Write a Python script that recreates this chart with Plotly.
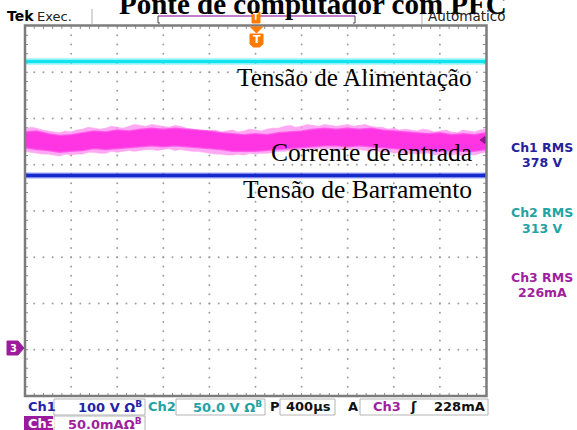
import plotly.graph_objects as go

# ---------------- data ----------------
time_us = [0, 100, 200, 300, 400, 500, 600, 700, 800, 900, 1000,
           1100, 1200, 1300, 1400, 1500, 1600, 1700, 1800, 1900, 2000,
           2100, 2200, 2300, 2400, 2500, 2600, 2700, 2800, 2900, 3000,
           3100, 3200, 3300, 3400, 3500, 3600, 3700, 3800, 3900, 4000]
# dense core of the Ch3 (input current) noise band
ch3_upper_mA = [234, 235, 232, 230, 231, 233, 235, 234, 236, 235, 237,
                238, 237, 238, 237, 236, 235, 233, 232, 231, 232,
                231, 233, 234, 235, 237, 238, 237, 238, 237, 238,
                236, 235, 234, 233, 232, 233, 231, 232, 231, 233]
ch3_lower_mA = [217, 215, 214, 212, 213, 214, 216, 215, 216, 217, 218,
                219, 218, 219, 218, 217, 216, 215, 213, 213, 213,
                214, 215, 216, 217, 218, 219, 219, 218, 219, 218,
                217, 216, 215, 214, 214, 213, 214, 213, 213, 215]
# noise peaks of Ch3 (sampled every 50 us)
peak_time_us = list(range(0, 4001, 50))
ch3_peak_upper_mA = [237, 239, 238, 236, 235, 234, 233, 235, 234, 236,
                     237, 239, 238, 237, 238, 240, 239, 238, 240, 242,
                     241, 240, 242, 241, 240, 239, 241, 240, 238, 237,
                     236, 235, 235, 236, 234, 235, 236, 234, 235, 237,
                     236, 235, 237, 238, 238, 240, 241, 239, 240, 242,
                     241, 240, 242, 241, 240, 241, 242, 240, 241, 242,
                     240, 239, 239, 237, 238, 236, 237, 236, 235, 237,
                     236, 234, 235, 236, 234, 233, 236, 235, 234, 236,
                     237]
ch3_peak_lower_mA = [213, 212, 211, 210, 210, 209, 208, 210, 209, 210,
                     210, 212, 212, 211, 211, 213, 212, 213, 214, 213,
                     214, 215, 215, 214, 215, 216, 214, 215, 214, 213,
                     213, 212, 211, 210, 210, 209, 209, 210, 209, 211,
                     210, 211, 211, 212, 213, 213, 214, 215, 214, 216,
                     215, 216, 215, 216, 214, 215, 216, 214, 215, 214,
                     213, 214, 212, 213, 211, 212, 210, 211, 210, 211,
                     211, 209, 210, 210, 209, 210, 208, 210, 209, 211,
                     212]
trace_time_us = [0, 400, 800, 1200, 1600, 2000, 2400, 2800, 3200, 3600, 4000]
ch1_bus_V = [374, 374, 374, 374, 374, 374, 374, 374, 374, 374, 374]
ch2_supply_V = [310, 310, 310, 310, 310, 310, 310, 310, 310, 310, 310]

trace_labels = ["Tensão de Alimentação", "Corrente de entrada", "Tensão de Barramento"]
rms_names = ["Ch1 RMS", "Ch2 RMS", "Ch3 RMS"]
rms_values = ["378 V", "313 V", "226mA"]
title_text = "Ponte de computador com PFC"

# scope settings
CH1_V_PER_DIV = 100
CH2_V_PER_DIV = 50
CH3_MA_PER_DIV = 50
GROUND_DIV = -2.97
US_PER_DIV = 400

# ---------------- layout helpers ----------------
W, H = 577, 430
L, R, T, B = 25, 91, 26, 34
PW, PH = W - L - R, H - T - B


def px(x):
    return (x - L) / PW


def py(y):
    return (H - B - y) / PH


def to_div(v, scale):
    return [val / scale + GROUND_DIV for val in v]


fig = go.Figure()

# grid dots
gx, gy = [], []
for k in range(1, 10):
    for j in range(1, 40):
        gx.append(k * US_PER_DIV)
        gy.append(-4 + j * 0.2)
for k in range(-3, 4):
    for j in range(1, 50):
        gx.append(j * 0.2 * US_PER_DIV)
        gy.append(k)
fig.add_trace(go.Scatter(x=gx, y=gy, mode="markers",
                         marker=dict(size=2, color="#a0a0a0", line=dict(width=0)),
                         hoverinfo="skip", showlegend=False))

# edge ticks
tx, ty = [], []
dy = 3 / 46.25
dx = 3 / 46.1 * US_PER_DIV
for j in range(1, 50):
    x = j * 0.2 * US_PER_DIV
    tx += [x, x, None, x, x, None]
    ty += [4, 4 - dy, None, -4, -4 + dy, None]
for j in range(1, 40):
    y = -4 + j * 0.2
    tx += [0, dx, None, 4000, 4000 - dx, None]
    ty += [y, y, None, y, y, None]
fig.add_trace(go.Scatter(x=tx, y=ty, mode="lines",
                         line=dict(color="#8a8a8a", width=1),
                         hoverinfo="skip", showlegend=False))

# Ch2 (cyan)
y2 = to_div(ch2_supply_V, CH2_V_PER_DIV)
fig.add_trace(go.Scatter(x=trace_time_us, y=y2, mode="lines",
                         line=dict(color="rgba(90,238,246,0.45)", width=7),
                         hoverinfo="skip", showlegend=False))
fig.add_trace(go.Scatter(x=trace_time_us, y=y2, mode="lines",
                         line=dict(color="#12e4ee", width=3.5),
                         hoverinfo="skip", showlegend=False))

# Ch3 (magenta noise band: light peaks + dense core)
pu = to_div(ch3_peak_upper_mA, CH3_MA_PER_DIV)
pl = to_div(ch3_peak_lower_mA, CH3_MA_PER_DIV)
fig.add_trace(go.Scatter(x=peak_time_us + peak_time_us[::-1], y=pu + pl[::-1],
                         mode="lines", fill="toself",
                         fillcolor="rgba(255,140,240,0.75)",
                         line=dict(color="rgba(255,160,244,0.6)", width=1),
                         hoverinfo="skip", showlegend=False))
up = to_div(ch3_upper_mA, CH3_MA_PER_DIV)
lo = to_div(ch3_lower_mA, CH3_MA_PER_DIV)
fig.add_trace(go.Scatter(x=time_us + time_us[::-1], y=up + lo[::-1],
                         mode="lines", fill="toself",
                         fillcolor="#ff34e2",
                         line=dict(color="rgba(255,80,232,0.8)", width=1.5),
                         hoverinfo="skip", showlegend=False))

# Ch1 (blue)
y1 = to_div(ch1_bus_V, CH1_V_PER_DIV)
fig.add_trace(go.Scatter(x=trace_time_us, y=y1, mode="lines",
                         line=dict(color="rgba(40,60,230,0.45)", width=6),
                         hoverinfo="skip", showlegend=False))
fig.add_trace(go.Scatter(x=trace_time_us, y=y1, mode="lines",
                         line=dict(color="#1629cc", width=3.5),
                         hoverinfo="skip", showlegend=False))

shapes = []
# frame
shapes.append(dict(type="rect", xref="paper", yref="paper",
                   x0=px(25), x1=px(486.5), y0=py(396), y1=py(25.5),
                   line=dict(color="#7c7c7c", width=2.5)))
# header separators
for sx in (92, 422):
    shapes.append(dict(type="line", xref="paper", yref="paper",
                       x0=px(sx), x1=px(sx), y0=py(24), y1=py(9),
                       line=dict(color="#b0b0b0", width=1)))
# purple bar with brackets
shapes.append(dict(type="line", xref="paper", yref="paper",
                   x0=px(158), x1=px(355), y0=py(16), y1=py(16),
                   line=dict(color="#c27ccc", width=2)))
for bx, d in ((158, 2), (355, -2)):
    shapes.append(dict(type="path", xref="paper", yref="paper",
                       path=f"M {px(bx)} {py(16)} L {px(bx)} {py(23)} L {px(bx + d)} {py(23)}",
                       line=dict(color="#444444", width=1)))
# trigger markers (orange)
shapes.append(dict(type="rect", xref="paper", yref="paper",
                   x0=px(252), x1=px(260), y0=py(23), y1=py(12),
                   fillcolor="#ff7a00", line=dict(color="#ff7a00", width=1)))
shapes.append(dict(type="path", xref="paper", yref="paper",
                   path=f"M {px(250.5)} {py(27)} L {px(262.5)} {py(27)} L {px(256.5)} {py(33)} Z",
                   fillcolor="#ff7a00", line=dict(color="#ff7a00", width=1)))
shapes.append(dict(type="path", xref="paper", yref="paper",
                   path=(f"M {px(250)} {py(34)} L {px(263)} {py(34)} L {px(263)} {py(44)} "
                         f"L {px(259.5)} {py(47)} L {px(253.5)} {py(47)} L {px(250)} {py(44)} Z"),
                   fillcolor="#ff7a00", line=dict(color="#ff7a00", width=1)))
# Ch3 ground marker
shapes.append(dict(type="path", xref="paper", yref="paper",
                   path=(f"M {px(7)} {py(341)} L {px(18)} {py(341)} L {px(24)} {py(348)} "
                         f"L {px(18)} {py(355)} L {px(7)} {py(355)} Z"),
                   fillcolor="#9c1a9c", line=dict(color="#9c1a9c", width=1)))
# right edge marker for ch3
shapes.append(dict(type="path", xref="paper", yref="paper",
                   path=f"M {px(480)} {py(140)} L {px(485)} {py(136.5)} L {px(485)} {py(143.5)} Z",
                   fillcolor="#8a1a8a", line=dict(color="#8a1a8a", width=1)))
# bottom boxes
for x0, x1, y0, y1 in ((54, 145, 399, 415), (176, 265, 399, 415), (280, 335, 399, 415),
                       (360, 488, 399, 415), (54, 145, 416, 431)):
    shapes.append(dict(type="rect", xref="paper", yref="paper",
                       x0=px(x0), x1=px(x1), y0=py(y1), y1=py(y0),
                       fillcolor="white", line=dict(color="#b4b4b4", width=1)))
shapes.append(dict(type="rect", xref="paper", yref="paper",
                   x0=px(24), x1=px(53), y0=py(431), y1=py(416),
                   fillcolor="#9c1a9c", line=dict(color="#9c1a9c", width=0)))

ann = []


def text(x, y, s, size, color, xanchor="left", family="DejaVu Sans", bold=False):
    if bold:
        s = f"<b>{s}</b>"
    ann.append(dict(x=px(x), y=py(y), xref="paper", yref="paper", text=s,
                    showarrow=False, xanchor=xanchor, yanchor="middle",
                    font=dict(size=size, color=color, family=family)))


SERIF = "Liberation Serif"
# title (partially cut off at the top)
text(117, 4, title_text, 29, "black", family=SERIF, bold=True)
# header
text(5, 16, "Tek", 14, "black", bold=True)
text(35, 16, "Exec.", 13, "#222222")
text(426, 16, "Automatico", 13.5, "#222222")
# trigger T glyphs
text(256, 17.5, "T", 8, "white", xanchor="center", bold=True)
text(256.5, 40, "T", 11, "white", xanchor="center", bold=True)
# ch3 marker
text(13.5, 348, "3", 10, "white", xanchor="center", bold=True)
# trace labels
text(474, 77.5, trace_labels[0], 25.2, "black", xanchor="right", family=SERIF)
text(474, 152.5, trace_labels[1], 25.5, "black", xanchor="right", family=SERIF)
text(474, 189.5, trace_labels[2], 25.5, "black", xanchor="right", family=SERIF)
# rms readouts
rms_colors = ["#23239c", "#1fa3a3", "#a01fa0"]
rms_y = [(147, 162), (212, 228), (277, 292)]
for name, val, c, (ya, yb) in zip(rms_names, rms_values, rms_colors, rms_y):
    text(542, ya, name, 12.5, c, xanchor="center", bold=True)
    text(542, yb, val, 12.5, c, xanchor="center", bold=True)
# bottom status bar
r1, r2 = 407, 423.5
text(26, r1, "Ch1", 13, "#2323a8", bold=True)
text(144, r1, "100 V Ω<sup>B</sup>", 13, "#2323a8", xanchor="right", bold=True)
text(146, r1, "Ch2", 13, "#1fa3a3", bold=True)
text(264, r1, "50.0 V Ω<sup>B</sup>", 13, "#1fa3a3", xanchor="right", bold=True)
text(268, r1, "P", 13, "#111111", bold=True)
text(308, r1, "400µs", 13, "#111111", xanchor="center", bold=True)
text(346, r1, "A", 13, "#111111", bold=True)
text(371, r1, "Ch3", 13, "#a01fa0", bold=True)
text(408, r1, "ʃ", 13, "#111111", bold=True)
text(487, r1, "228mA", 13, "#111111", xanchor="right", bold=True)
text(26, r2, "Ch3", 13, "white", bold=True)
text(144, r2, "50.0mAΩ<sup>B</sup>", 13, "#a01fa0", xanchor="right", bold=True)

fig.update_layout(
    width=W, height=H,
    margin=dict(l=L, r=R, t=T, b=B),
    paper_bgcolor="white", plot_bgcolor="white",
    xaxis=dict(range=[0, 10 * US_PER_DIV], showgrid=False, zeroline=False,
               showticklabels=False, ticks="", fixedrange=True),
    yaxis=dict(range=[-4, 4], showgrid=False, zeroline=False,
               showticklabels=False, ticks="", fixedrange=True),
    shapes=shapes, annotations=ann, showlegend=False,
)

fig.write_html("out.html", config={"displayModeBar": False},
               post_script="document.body.style.margin='0px';")
